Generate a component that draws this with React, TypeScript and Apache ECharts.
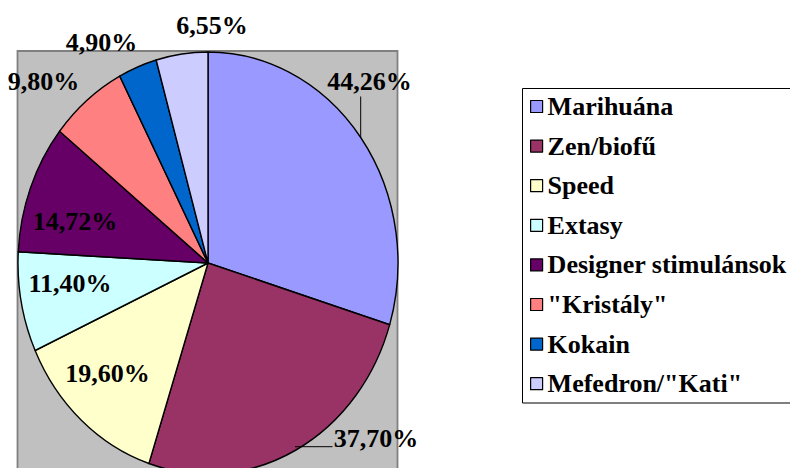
import React, { useEffect, useRef } from "react";
import * as echarts from "echarts";

const categories = [
  "Marihuána",
  "Zen/biofű",
  "Speed",
  "Extasy",
  "Designer stimulánsok",
  "\"Kristály\"",
  "Kokain",
  "Mefedron/\"Kati\"",
];
const values = [44.26, 37.7, 19.6, 11.4, 14.72, 9.8, 4.9, 6.55];
const colors = ["#9999FF", "#993366", "#FFFFCC", "#CCFFFF", "#660066", "#FF8080", "#0066CC", "#CCCCFF"];

// label centre positions on screen (px)
const labelPositions: number[][] = [
  [369.5, 81],
  [376, 438],
  [107.5, 373],
  [70, 283],
  [75, 221],
  [43.5, 81],
  [101.5, 42],
  [212, 25],
];

const CX = 208;
const CY = 263;
const RX = 190;
const RY = 211;
const SY = RY / RX;
const FONT = "Times New Roman, Liberation Serif, serif";
const FS = 26;

function fmt(v: number) {
  return v.toFixed(2).replace(".", ",") + "%";
}

export default function App() {
  const pieRef = useRef<HTMLDivElement>(null);
  const topRef = useRef<HTMLDivElement>(null);

  useEffect(() => {
    const pie = echarts.init(pieRef.current!, undefined, { renderer: "svg" });
    const top = echarts.init(topRef.current!, undefined, { renderer: "svg" });

    const rectTop = CY - (CY - 51) / SY;
    pie.setOption({
      animation: false,
      graphic: [
        {
          type: "rect",
          z: -10,
          shape: { x: 17.5, y: rectTop, width: 380, height: 468 - rectTop + 20 },
          style: { fill: "#C0C0C0", stroke: "#808080", lineWidth: 1.8 },
        },
      ],
      series: [
        {
          type: "pie",
          center: [CX, CY],
          radius: [0, RX],
          startAngle: 90,
          clockwise: true,
          silent: true,
          emphasis: { disabled: true },
          label: { show: false },
          labelLine: { show: false },
          itemStyle: { borderColor: "#000", borderWidth: 1.4 },
          data: values.map((v, i) => ({ name: categories[i], value: v, itemStyle: { color: colors[i] } })),
        },
      ],
    });

    const texts = values.map((v, i) => ({
      type: "text",
      z: 10,
      style: {
        text: fmt(v),
        x: labelPositions[i][0],
        y: labelPositions[i][1],
        align: "center",
        verticalAlign: "middle",
        fontFamily: FONT,
        fontWeight: "bold",
        fontSize: FS,
        fill: "#000",
      },
    }));

    top.setOption({
      animation: false,
      legend: {
        orient: "vertical",
        left: 522,
        top: 88,
        padding: [3.5, 10, 4, 8],
        itemGap: 9.6,
        itemWidth: 12,
        itemHeight: 12,
        icon: "rect",
        borderWidth: 0,
        selectedMode: false,
        itemStyle: { borderColor: "#000", borderWidth: 1.2 },
        textStyle: { fontFamily: FONT, fontSize: FS, fontWeight: "bold", color: "#000", lineHeight: 30 },
        data: categories.map((c, i) => ({
          name: c,
          itemStyle: { color: colors[i], borderColor: "#000", borderWidth: 1.2, opacity: 1 },
        })),
      },
      graphic: [
        {
          type: "rect",
          z: -5,
          shape: { x: 522.5, y: 88.5, width: 320, height: 314.5 },
          style: { fill: "none", stroke: "#000", lineWidth: 1 },
        },
        ...texts,
        {
          type: "line",
          shape: { x1: 360.7, y1: 96.5, x2: 360.7, y2: 137.5 },
          style: { stroke: "#000", lineWidth: 1 },
        },
        {
          type: "line",
          shape: { x1: 295, y1: 446.7, x2: 332.5, y2: 446.7 },
          style: { stroke: "#000", lineWidth: 1 },
        },
      ],
      series: [
        {
          type: "pie",
          center: [CX, CY],
          radius: [0, 0],
          startAngle: 90,
          silent: true,
          label: { show: false },
          labelLine: { show: false },
          itemStyle: { borderWidth: 0 },
          data: values.map((v, i) => ({ name: categories[i], value: v, itemStyle: { color: colors[i] } })),
        },
      ],
    });

    return () => {
      pie.dispose();
      top.dispose();
    };
  }, []);

  return (
    <div
      style={{
        position: "absolute",
        left: 0,
        top: 0,
        width: 790,
        height: 468,
        overflow: "hidden",
        background: "#fff",
      }}
    >
      <div
        ref={pieRef}
        style={{
          position: "absolute",
          left: 0,
          top: 0,
          width: 790,
          height: 468,
          transform: `scaleY(${SY})`,
          transformOrigin: `0px ${CY}px`,
        }}
      />
      <div ref={topRef} style={{ position: "absolute", left: 0, top: 0, width: 790, height: 468 }} />
    </div>
  );
}
